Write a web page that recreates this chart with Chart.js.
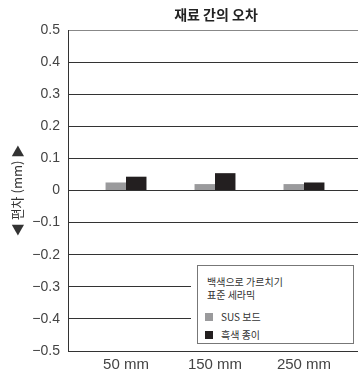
<!DOCTYPE html>
<html><head><meta charset="utf-8">
<script src="https://cdn.jsdelivr.net/npm/chart.js@4/dist/chart.umd.min.js"></script>
<style>
html,body{margin:0;padding:0;background:#fff;}
#wrap{position:relative;width:358px;height:374px;overflow:hidden;}
#title{position:absolute;left:0;width:432px;top:4px;text-align:center;font:bold 14px "Noto Sans CJK KR";color:#222;}
#legmask{position:absolute;left:191px;top:260px;width:167px;height:88px;background:#fff;}
#legend{position:absolute;left:197px;top:265px;width:157px;height:79px;border:1px solid #777;background:#fff;font:10px "Noto Sans CJK KR";color:#333;box-sizing:border-box;}
#legend .t{position:absolute;left:9px;line-height:13px;}
#legend .it{position:absolute;left:7px;display:flex;align-items:center;line-height:13px;}
#legend .sw{width:8px;height:8px;margin-right:8px;}
</style></head>
<body><div id="wrap"><canvas id="c" width="358" height="374"></canvas>
<div id="title"></div>
<div id="legmask"></div>
<div id="legend"></div>
</div>
<script>
const chartTitle = "재료 간의 오차";
const yAxisTitle = "◀ 편차 (mm) ▶";
const categories = ["50 mm", "150 mm", "250 mm"];
const legendTitle = ["백색으로 가르치기", "표준 세라믹"];
const seriesNames = ["SUS 보드", "흑색 종이"];
const susBoard = [0.025, 0.02, 0.02];
const blackPaper = [0.043, 0.054, 0.025];
const seriesColors = ["#9a9a9c", "#231f20"];

document.getElementById('title').textContent = chartTitle;
const leg = document.getElementById('legend');
legendTitle.forEach((t,i)=>{const d=document.createElement('div');d.className='t';d.style.top=(9+i*13)+'px';d.textContent=t;leg.appendChild(d);});
seriesNames.forEach((n,i)=>{const d=document.createElement('div');d.className='it';d.style.top=(44+i*18)+'px';
 const s=document.createElement('span');s.className='sw';s.style.background=seriesColors[i];d.appendChild(s);
 const tx=document.createElement('span');tx.textContent=n;d.appendChild(tx);leg.appendChild(d);});

const mk = arr => arr.map((v,i)=>({x:i,y:v}));
new Chart(document.getElementById('c'), {
  type: 'bar',
  data: { datasets: [
    {label: seriesNames[0], data: mk(susBoard), backgroundColor: seriesColors[0], borderWidth:0},
    {label: seriesNames[1], data: mk(blackPaper), backgroundColor: seriesColors[1], borderWidth:0}
  ]},
  options: {
    responsive:false, animation:false,
    layout:{padding:{top:30,left:0,right:0,bottom:0}},
    categoryPercentage:0.46, barPercentage:1,
    plugins:{legend:{display:false}, title:{display:false}, tooltip:{enabled:false}},
    scales:{
      x:{type:'linear', min:-0.652, max:2.607, offset:false,
         afterBuildTicks: s => { s.ticks = categories.map((c,i)=>({value:i})); },
         afterFit: s => { s.height = 23; },
         ticks:{callback:(v)=>categories[v], font:{family:'"Liberation Sans"', size:15}, color:'#444', padding:5, maxRotation:0, autoSkip:false},
         grid:{display:false, drawTicks:false},
         border:{display:true, color:'#333', width:1}},
      y:{min:-0.5, max:0.5,
         afterBuildTicks: s => { const t=[]; for(let k=-5;k<=5;k++) t.push({value:k/10}); s.ticks=t; },
         afterFit: s => { s.width = 68; },
         ticks:{callback:(v)=>{const r=Math.round(v*10)/10; return r===0?'0':String(r).replace('-','−');}, font:{family:'"Liberation Sans"', size:14}, color:'#444', padding:8},
         grid:{color:(c)=> (c.tick && Math.abs(c.tick.value-0.5)<1e-6) ? '#888' : '#333', lineWidth:1, drawTicks:false},
         border:{display:true, color:'#333', width:1},
         title:{display:true, text:yAxisTitle, font:{family:'"Noto Sans CJK KR"', size:13}, color:'#333', padding:{top:9,bottom:0}}}
    }
  }
});
</script></body></html>
